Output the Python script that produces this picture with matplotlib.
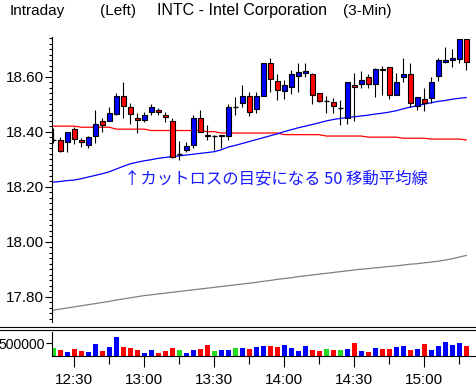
# -*- coding: utf-8 -*-
import numpy as np
import matplotlib
matplotlib.use("Agg")
import matplotlib.pyplot as plt
from matplotlib.lines import Line2D
from matplotlib.ticker import MultipleLocator, FixedLocator

plt.rcParams['font.family'] = ['Liberation Sans', 'DejaVu Sans']

# 3-min bars from 12:21 to 15:18
opens = [18.370, 18.369, 18.361, 18.409, 18.369, 18.352, 18.384, 18.439, 18.440, 18.463,
         18.529, 18.489, 18.449, 18.441, 18.470, 18.478, 18.461, 18.438, 18.318, 18.333,
         18.352, 18.449, 18.386, 18.385, 18.383, 18.384, 18.489, 18.503, 18.529, 18.483,
         18.531, 18.649, 18.585, 18.549, 18.561, 18.604, 18.612, 18.610, 18.541, 18.510,
         18.508, 18.485, 18.449, 18.569, 18.572, 18.599, 18.572, 18.628, 18.636, 18.533,
         18.600, 18.609, 18.493, 18.518, 18.521, 18.603, 18.652, 18.662, 18.663, 18.736]
highs = [18.412, 18.380, 18.400, 18.417, 18.376, 18.385, 18.479, 18.451, 18.491, 18.541,
         18.580, 18.505, 18.467, 18.470, 18.500, 18.485, 18.470, 18.449, 18.365, 18.361,
         18.461, 18.479, 18.425, 18.387, 18.388, 18.501, 18.527, 18.570, 18.545, 18.543,
         18.650, 18.667, 18.608, 18.588, 18.623, 18.649, 18.649, 18.612, 18.541, 18.530,
         18.521, 18.515, 18.582, 18.612, 18.621, 18.610, 18.630, 18.640, 18.636, 18.612,
         18.667, 18.649, 18.527, 18.558, 18.600, 18.667, 18.709, 18.701, 18.736, 18.736]
lows = [18.358, 18.327, 18.327, 18.356, 18.345, 18.340, 18.358, 18.398, 18.440, 18.460,
        18.449, 18.427, 18.396, 18.434, 18.461, 18.461, 18.436, 18.305, 18.298, 18.325,
        18.340, 18.400, 18.370, 18.333, 18.340, 18.370, 18.461, 18.491, 18.458, 18.467,
        18.530, 18.545, 18.516, 18.518, 18.535, 18.545, 18.600, 18.501, 18.508, 18.467,
        18.467, 18.424, 18.427, 18.440, 18.558, 18.558, 18.527, 18.533, 18.519, 18.533,
        18.582, 18.491, 18.479, 18.475, 18.503, 18.585, 18.649, 18.636, 18.649, 18.624]
closes = [18.370, 18.330, 18.398, 18.372, 18.361, 18.380, 18.427, 18.423, 18.467, 18.529,
          18.492, 18.463, 18.441, 18.461, 18.490, 18.470, 18.452, 18.309, 18.318, 18.348,
          18.449, 18.400, 18.383, 18.385, 18.386, 18.489, 18.489, 18.529, 18.470, 18.529,
          18.649, 18.592, 18.552, 18.570, 18.610, 18.618, 18.621, 18.532, 18.510, 18.510,
          18.493, 18.485, 18.580, 18.562, 18.588, 18.572, 18.627, 18.624, 18.533, 18.580,
          18.609, 18.503, 18.527, 18.503, 18.580, 18.661, 18.661, 18.667, 18.736, 18.652]
volumes = [300, 224, 145, 263, 185, 145, 460, 185, 342, 735,
           342, 300, 224, 105, 224, 105, 185, 300, 224, 105,
           224, 263, 420, 185, 224, 224, 300, 300, 263, 342,
           380, 380, 342, 420, 300, 185, 380, 224, 185, 263,
           224, 224, 263, 500, 185, 145, 300, 263, 263, 342,
           380, 224, 263, 460, 224, 380, 540, 420, 500, 380]  # thousands

ma_red = [18.420, 18.420, 18.420, 18.420, 18.416, 18.416, 18.416, 18.416, 18.416, 18.409,
          18.409, 18.409, 18.409, 18.409, 18.404, 18.404, 18.404, 18.404, 18.404, 18.404,
          18.404, 18.404, 18.400, 18.400, 18.395, 18.395, 18.395, 18.395, 18.395, 18.395,
          18.395, 18.395, 18.395, 18.389, 18.389, 18.389, 18.389, 18.389, 18.389, 18.384,
          18.384, 18.384, 18.384, 18.384, 18.384, 18.380, 18.380, 18.380, 18.380, 18.380,
          18.376, 18.376, 18.376, 18.376, 18.373, 18.373, 18.373, 18.373, 18.373, 18.370]
ma50 = [18.216, 18.219, 18.222, 18.224, 18.229, 18.235, 18.241, 18.247, 18.254, 18.264,
        18.274, 18.283, 18.289, 18.294, 18.298, 18.303, 18.306, 18.310, 18.312, 18.315,
        18.318, 18.321, 18.324, 18.327, 18.334, 18.344, 18.350, 18.357, 18.364, 18.371,
        18.378, 18.385, 18.392, 18.400, 18.407, 18.414, 18.420, 18.426, 18.432, 18.439,
        18.444, 18.448, 18.451, 18.454, 18.457, 18.460, 18.464, 18.467, 18.471, 18.476,
        18.483, 18.489, 18.494, 18.500, 18.505, 18.510, 18.513, 18.518, 18.521, 18.524]
ma_gray = [17.751, 17.755, 17.759, 17.763, 17.767, 17.771, 17.775, 17.779, 17.783, 17.788,
           17.792, 17.796, 17.800, 17.804, 17.807, 17.810, 17.813, 17.816, 17.819, 17.822,
           17.825, 17.828, 17.831, 17.834, 17.837, 17.840, 17.843, 17.846, 17.849, 17.852,
           17.856, 17.859, 17.863, 17.866, 17.869, 17.873, 17.876, 17.879, 17.882, 17.885,
           17.888, 17.891, 17.894, 17.897, 17.900, 17.902, 17.905, 17.907, 17.910, 17.912,
           17.915, 17.918, 17.920, 17.923, 17.926, 17.929, 17.933, 17.938, 17.944, 17.950]

time_labels = ["12:30", "13:00", "13:30", "14:00", "14:30", "15:00"]
label_pos = [3, 13, 23, 33, 43, 53]
minor_pos = [8, 18, 28, 38, 48, 58]

o = np.array(opens); h = np.array(highs); l = np.array(lows); c = np.array(closes)
x = np.arange(len(o))
cols = np.where(c > o, '#0000ff', np.where(c < o, '#ff0000', '#22dd22'))

fig = plt.figure(figsize=(4.76, 3.92), dpi=100)
ax = fig.add_axes([52/476, 1 - 322/392, 424/476, 285/392])
axv = fig.add_axes([52/476, 1 - 356/392, 424/476, 24/392])

# candles
ax.vlines(x, l, h, color='black', lw=0.8, zorder=2)
up = c != o
ax.bar(x[up], np.abs(c - o)[up], bottom=np.minimum(o, c)[up], width=0.7,
       color=cols[up], edgecolor='black', linewidth=0.8, zorder=3)
ax.hlines(o[~up], x[~up] - 0.35, x[~up] + 0.35, color='black', lw=1, zorder=3)

ax.plot(x, ma_red, color='#ff0000', lw=0.9, zorder=1)
ax.plot(x, ma50, color='#0000ff', lw=0.9, zorder=1)
ax.plot(x, ma_gray, color='#808080', lw=0.9, zorder=1)

ax.text(10.1, 18.227, "↑カットロスの目安になる 50 移動平均線", color='#1a1aff', fontsize=11.8,
        family=['Noto Sans CJK JP', 'DejaVu Sans'], ha='left', va='center')

ax.set_xlim(-0.19, 60.4)
ax.set_ylim(17.708, 18.744)
ax.yaxis.set_major_locator(MultipleLocator(0.2))
ax.yaxis.set_minor_locator(MultipleLocator(0.02))
ax.yaxis.set_major_formatter(matplotlib.ticker.FormatStrFormatter('%.2f'))
ax.tick_params(axis='y', which='major', length=5, width=0.8, labelsize=11, pad=1)
ax.tick_params(axis='y', which='minor', length=2.2, width=0.8)
ax.set_xticks([])
for s in ['top', 'right', 'bottom']:
    ax.spines[s].set_visible(False)
ax.spines['left'].set_linewidth(0.8)

# volume
axv.bar(x, np.array(volumes) * 1000, width=0.7, color=cols, linewidth=0)
axv.set_xlim(-0.19, 60.4)
axv.set_ylim(0, 945000)
axv.set_yticks([500000])
axv.set_yticklabels(["500000"])
axv.xaxis.set_major_locator(FixedLocator(label_pos))
axv.xaxis.set_minor_locator(FixedLocator(minor_pos))
axv.set_xticklabels(time_labels)
axv.tick_params(axis='y', length=4, width=0.8, labelsize=10, pad=1)
axv.tick_params(axis='x', which='major', length=8, width=0.8, labelsize=11, pad=4)
axv.tick_params(axis='x', which='minor', length=5.8, width=0.8)
for s in ['top', 'right']:
    axv.spines[s].set_visible(False)
axv.spines['left'].set_linewidth(0.8)
axv.spines['bottom'].set_linewidth(0.8)

# panel separator
for yy in [327, 330]:
    fig.add_artist(Line2D([0, 1], [1 - yy/392, 1 - yy/392], color='black', lw=0.8))

title_y = 1 - 11/392
fig.text(10/476, title_y, "Intraday", fontsize=11, va='center', ha='left')
fig.text(100/476, title_y, "(Left)", fontsize=11, va='center', ha='left')
fig.text(157/476, title_y, "INTC - Intel Corporation", fontsize=11.5, va='center', ha='left')
fig.text(343/476, title_y, "(3-Min)", fontsize=11, va='center', ha='left')

fig.savefig("out.png", dpi=100)
